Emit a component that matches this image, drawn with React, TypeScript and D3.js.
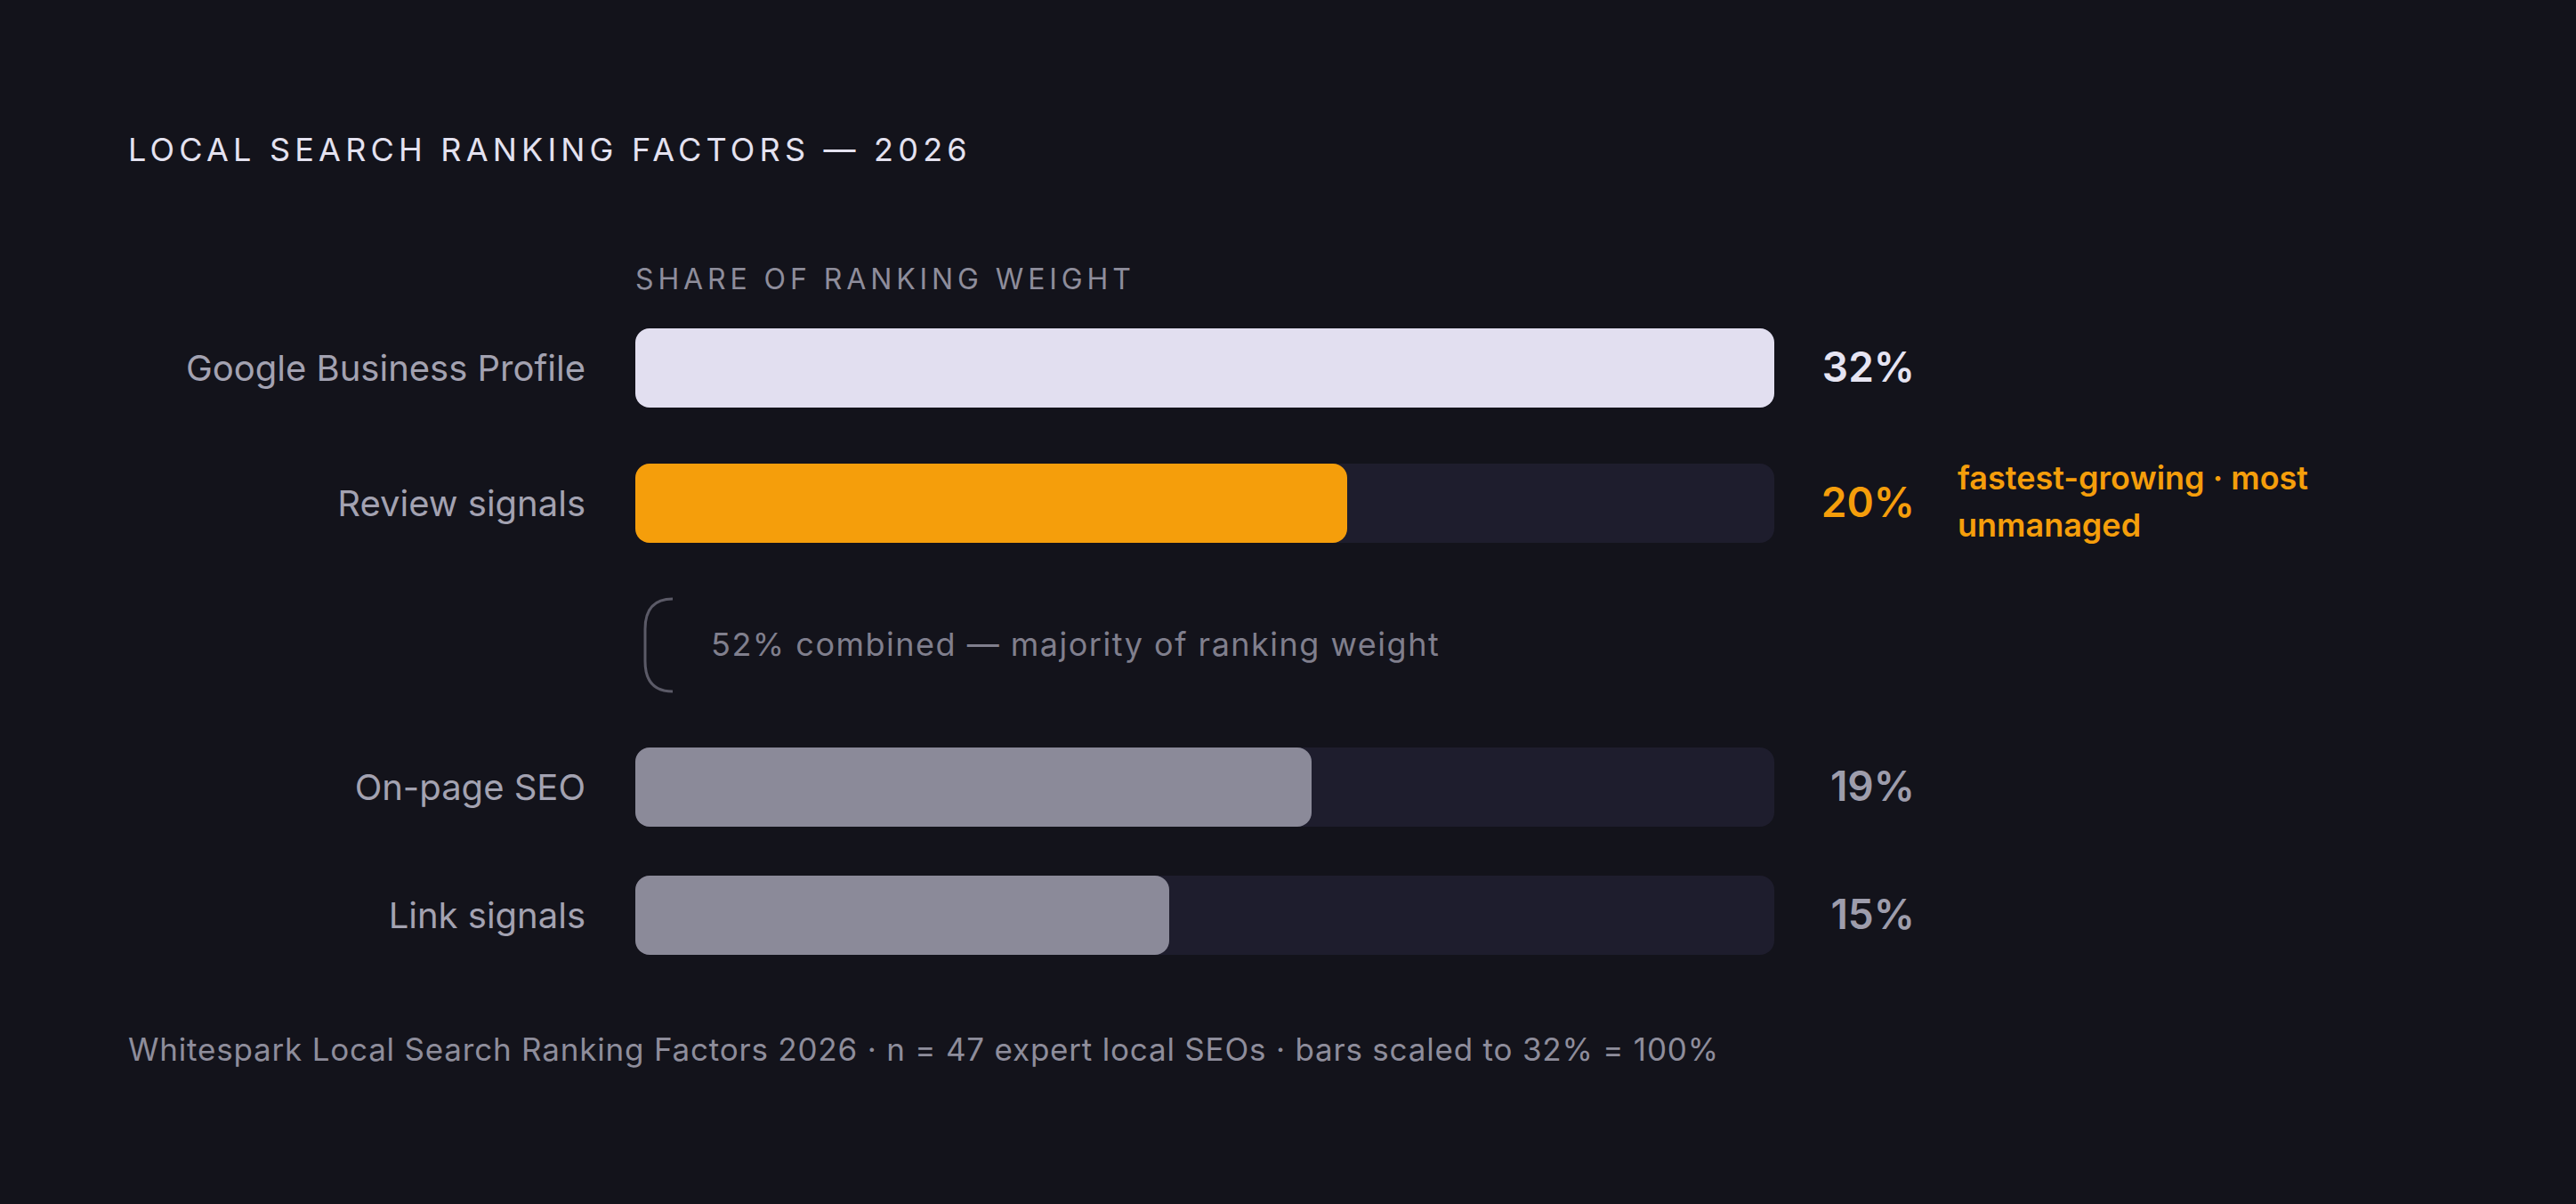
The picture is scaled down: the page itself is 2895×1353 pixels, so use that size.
import React, { useEffect, useRef } from "react";
import * as d3 from "d3";

const factors = ["Google Business Profile", "Review signals", "On-page SEO", "Link signals"];
const shares = [32, 20, 19, 15];
const valueLabels = ["32%", "20%", "19%", "15%"];
const highlightFactor = "Review signals";
const calloutLines = ["fastest-growing · most", "unmanaged"];
const combinedNote = "52% combined — majority of ranking weight";
const titleText = "LOCAL SEARCH RANKING FACTORS — 2026";
const axisTitle = "SHARE OF RANKING WEIGHT";
const footerText =
    "Whitespark Local Search Ranking Factors 2026 · n = 47 expert local SEOs · bars scaled to 32% = 100%";

const W = 2895;
const H = 1353;
const FONT = "Inter, 'Noto Sans', sans-serif";

export default function App() {
    const svgRef = useRef<SVGSVGElement | null>(null);

    useEffect(() => {
        document.body.style.margin = "0";
        document.body.style.background = "#13131b";
        if (!svgRef.current) return;

        const svg = d3.select(svgRef.current);
        svg.selectAll("*").remove();

        svg.append("rect").attr("width", W).attr("height", H).attr("fill", "#13131b");

        const x = d3.scaleLinear().domain([0, d3.max(shares) || 32]).range([714, 1994]);

        // two groups of rows, the note sits between them
        const yTop = d3.scaleBand<string>().domain(factors.slice(0, 2)).range([369, 610]).paddingInner(0.414);
        const yBottom = d3.scaleBand<string>().domain(factors.slice(2)).range([840, 1073]).paddingInner(0.382);
        const yPos = (name: string) => (yTop.domain().includes(name) ? (yTop(name) as number) : (yBottom(name) as number));
        const bh = yTop.bandwidth();

        const rows = factors.map((name, i) => ({ name, share: shares[i], label: valueLabels[i], i }));

        const fillColor = (d: { name: string; i: number }) =>
            d.i === 0 ? "#e2dff0" : d.name === highlightFactor ? "#f59e0b" : "#8b8a99";
        const valueColor = (d: { name: string; i: number }) =>
            d.i === 0 ? "#e6e4f2" : d.name === highlightFactor ? "#f59e0b" : "#9e9dac";

        svg.append("text")
            .attr("x", 144)
            .attr("y", 181)
            .attr("fill", "#e4e2f0")
            .style("font-family", FONT)
            .style("font-size", "36px")
            .style("letter-spacing", "5.2px")
            .text(titleText);

        svg.append("text")
            .attr("x", 714)
            .attr("y", 325)
            .attr("fill", "#8e8d9b")
            .style("font-family", FONT)
            .style("font-size", "32px")
            .style("letter-spacing", "4.9px")
            .text(axisTitle);

        const g = svg.append("g");

        g.selectAll(".track")
            .data(rows)
            .join("rect")
            .attr("class", "track")
            .attr("x", x(0))
            .attr("y", d => yPos(d.name))
            .attr("width", x.range()[1] - x(0))
            .attr("height", bh)
            .attr("rx", 16)
            .attr("fill", "#1e1d2d");

        g.selectAll(".bar")
            .data(rows)
            .join("rect")
            .attr("class", "bar")
            .attr("x", x(0))
            .attr("y", d => yPos(d.name))
            .attr("width", d => x(d.share) - x(0))
            .attr("height", bh)
            .attr("rx", 16)
            .attr("fill", fillColor);

        g.selectAll(".label")
            .data(rows)
            .join("text")
            .attr("class", "label")
            .attr("x", 658)
            .attr("y", d => yPos(d.name) + bh / 2)
            .attr("dy", "0.36em")
            .attr("text-anchor", "end")
            .attr("fill", "#a3a2b1")
            .style("font-family", FONT)
            .style("font-size", "40px")
            .text(d => d.name);

        g.selectAll(".value")
            .data(rows)
            .join("text")
            .attr("class", "value")
            .attr("x", 2152)
            .attr("y", d => yPos(d.name) + bh / 2)
            .attr("dy", "0.33em")
            .attr("text-anchor", "end")
            .attr("fill", valueColor)
            .style("font-family", FONT)
            .style("font-size", "46px")
            .style("font-weight", 600)
            .text(d => d.label);

        const hy = yPos(highlightFactor) + bh / 2;
        svg.append("text")
            .attr("x", 2200)
            .attr("y", hy - 15)
            .attr("fill", "#f59e0b")
            .style("font-family", FONT)
            .style("font-size", "36px")
            .style("font-weight", 600)
            .selectAll("tspan")
            .data(calloutLines)
            .join("tspan")
            .attr("x", 2200)
            .attr("dy", (_d, i) => (i === 0 ? 0 : 53))
            .text(d => d);

        // bracket + note between the two groups
        const noteTop = (yTop.range()[1] as number) + 63;
        const noteBottom = noteTop + 104;
        const noteMid = (noteTop + noteBottom) / 2;
        const bx = 725;
        const r = 30;
        const bracket = d3.path();
        bracket.moveTo(bx + r + 1, noteTop);
        bracket.quadraticCurveTo(bx, noteTop, bx, noteTop + r + 4);
        bracket.lineTo(bx, noteBottom - r - 4);
        bracket.quadraticCurveTo(bx, noteBottom, bx + r + 1, noteBottom);
        svg.append("path")
            .attr("d", bracket.toString())
            .attr("fill", "none")
            .attr("stroke", "#5b5a67")
            .attr("stroke-width", 3);

        svg.append("text")
            .attr("x", 799)
            .attr("y", noteMid + 12)
            .attr("fill", "#807f8d")
            .style("font-family", FONT)
            .style("font-size", "36px")
            .style("letter-spacing", "1.5px")
            .text(combinedNote);

        svg.append("text")
            .attr("x", 144)
            .attr("y", 1192)
            .attr("fill", "#8e8d9b")
            .style("font-family", FONT)
            .style("font-size", "35px")
            .style("letter-spacing", "0.8px")
            .text(footerText);
    }, []);

    return (
        <div style={{ position: "fixed", left: 0, top: 0 }}>
            <svg ref={svgRef} width={W} height={H} style={{ display: "block" }} />
        </div>
    );
}
